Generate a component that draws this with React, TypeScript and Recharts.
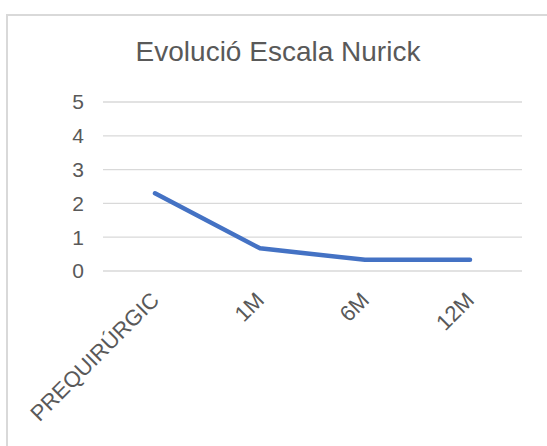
import React from "react";
import { LineChart, Line, XAxis, YAxis, CartesianGrid } from "recharts";

const categories = ["PREQUIRÚRGIC", "1M", "6M", "12M"];
const nurick = [2.3, 0.67, 0.33, 0.33];
const yTicks = [0, 1, 2, 3, 4, 5];

const data = categories.map((name, i) => ({ name, value: nurick[i] }));

const FONT = "'Liberation Sans', Arial, Helvetica, sans-serif";
const TEXT = "#595959";

// rotated category label, end of text sits on the tick
const XTick = (props: any) => {
  const { x, y, payload } = props;
  return (
    <g transform={`translate(${x},${y})`}>
      <text
        x={0}
        y={0}
        transform="rotate(-45)"
        textAnchor="end"
        dy="0.35em"
        fill={TEXT}
        fontSize={22}
        fontFamily={FONT}
      >
        {payload.value}
      </text>
    </g>
  );
};

export default function App() {
  return (
    <div
      style={{
        position: "absolute",
        left: 0,
        top: 0,
        width: 547,
        height: 446,
        background: "#fff",
        overflow: "hidden",
      }}
    >
      {/* chart frame, cropped at right and bottom */}
      <div
        style={{
          position: "absolute",
          left: 6,
          top: 14,
          width: 620,
          height: 520,
          border: "2px solid #d9d9d9",
          boxSizing: "border-box",
        }}
      />
      <div
        style={{
          position: "absolute",
          left: -22,
          top: 38,
          width: 600,
          textAlign: "center",
          fontFamily: FONT,
          fontSize: 28,
          lineHeight: "28px",
          color: TEXT,
        }}
      >
        Evolució Escala Nurick
      </div>
      <div style={{ position: "absolute", left: 0, top: 0 }}>
        <LineChart
          width={547}
          height={446}
          data={data}
          margin={{ top: 102, right: 25, left: 0, bottom: 0 }}
        >
          <CartesianGrid vertical={false} stroke="#d9d9d9" strokeWidth={1.3} />
          <XAxis
            dataKey="name"
            height={175}
            axisLine={false}
            tickLine={false}
            interval={0}
            padding={{ left: 52, right: 52 }}
            tickSize={0}
            tickMargin={25}
            tick={<XTick />}
          />
          <YAxis
            width={103}
            domain={[0, 5]}
            ticks={yTicks}
            axisLine={false}
            tickLine={false}
            tickSize={0}
            tickMargin={19}
            tick={{ fill: TEXT, fontSize: 21, fontFamily: FONT }}
          />
          <Line
            dataKey="value"
            stroke="#4472C4"
            strokeWidth={4.5}
            strokeLinecap="round"
            strokeLinejoin="round"
            dot={false}
            isAnimationActive={false}
          />
        </LineChart>
      </div>
    </div>
  );
}
